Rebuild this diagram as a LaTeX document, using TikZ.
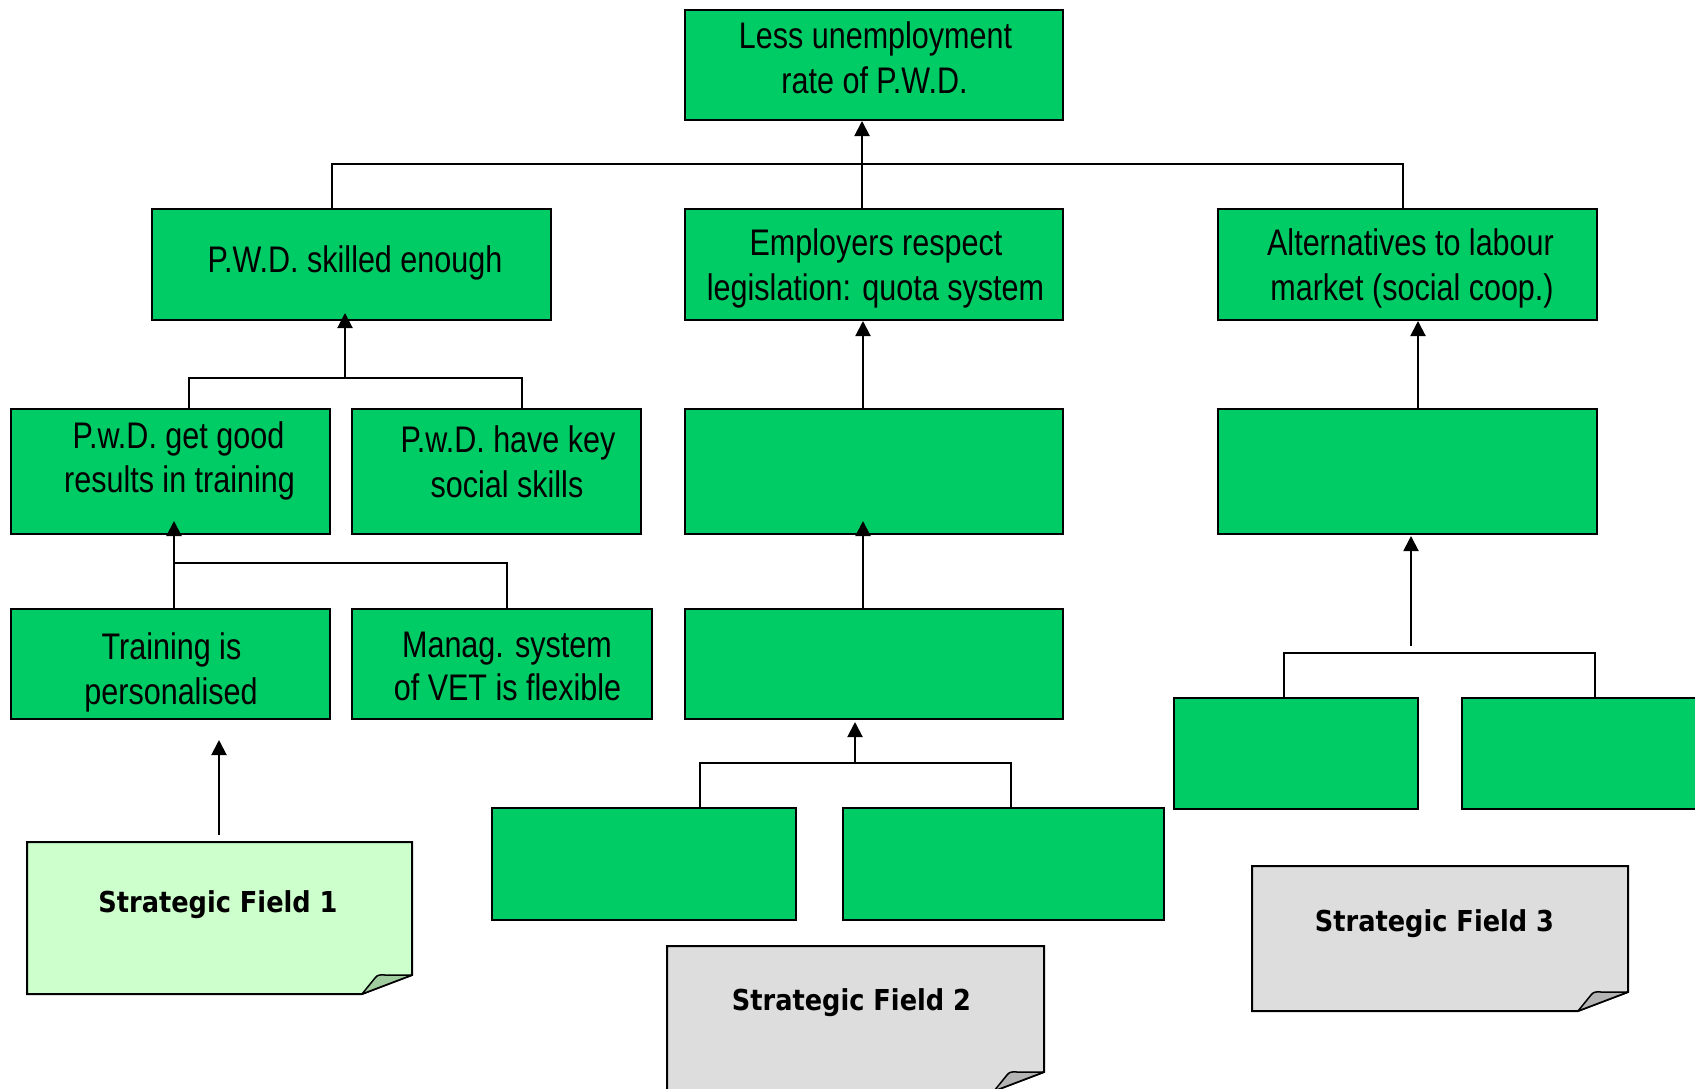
\documentclass[tikz,border=0pt]{standalone}
\usepackage{fontspec}
\usetikzlibrary{arrows.meta}
\newfontfamily\boxfont{Liberation Sans}[FakeStretch=0.825]
\newfontfamily\notefont{DejaVu Sans}[FakeStretch=0.89]
\definecolor{boxgreen}{HTML}{00CC66}
\definecolor{notegreen}{HTML}{CCFFCC}
\definecolor{notegray}{HTML}{DDDDDD}
\definecolor{foldgreen}{HTML}{A0CCA0}
\definecolor{foldgray}{HTML}{B4B4B4}

% goal box given by name, left, top, right, bottom
\newcommand\goalbox[5]{%
  \node[goal, minimum width={#4-#2}, minimum height={#5-#3}] (#1)
    at ({(#2+#4)/2},{(#3+#5)/2}) {};}
% sticky note given by left, top, right, bottom, paper colour, fold colour
\newcommand\stickynote[6]{%
  \path[draw=black, line width=2pt, fill=#5, line join=miter]
    (#1,#2) -- (#3,#2) -- (#3,#4-19) -- (#3-50,#4) -- (#1,#4) -- cycle;
  \path[draw=black, line width=1.5pt, fill=#6, line join=round]
    (#3-50,#4) -- (#3-37,#4-16) .. controls (#3-35,#4-19) and (#3-32,#4-19.5)
    .. (#3-27,#4-19) -- (#3,#4-19) -- cycle;}

\begin{document}
\begin{tikzpicture}[x=1pt, y=-1pt,
  goal/.style={draw=black, line width=2pt, fill=boxgreen, inner sep=0pt, outer sep=0pt},
  lbl/.style={anchor=base, inner sep=0pt, font=\boxfont\fontsize{37}{45}\selectfont},
  notelbl/.style={anchor=base, inner sep=0pt, font=\notefont\bfseries\fontsize{28.8}{34}\selectfont},
  link/.style={line width=2pt},
  tip/.style={line width=2pt, -{Triangle[length=15pt,width=15pt]}}]
\useasboundingbox (0,0) rectangle (1695,1088);
\clip (0,0) rectangle (1695,1088);

% goal boxes
\goalbox{top}{685}{10}{1063}{120}
\goalbox{a}{152}{209}{551}{320}
\goalbox{b}{685}{209}{1063}{320}
\goalbox{c}{1218}{209}{1597}{320}
\goalbox{d}{11}{409}{330}{534}
\goalbox{e}{352}{409}{641}{534}
\goalbox{f}{685}{409}{1063}{534}
\goalbox{g}{1218}{409}{1597}{534}
\goalbox{h}{11}{609}{330}{719}
\goalbox{i}{352}{609}{652}{719}
\goalbox{j}{685}{609}{1063}{719}
\goalbox{k}{1174}{698}{1418}{809}
\goalbox{l}{1462}{698}{1720}{809}
\goalbox{m}{492}{808}{796}{920}
\goalbox{n}{843}{808}{1164}{920}

% box texts
\node[lbl] (top-1) at (875.5,48) {Less unemployment};
\node[lbl] (top-2) at (874.5,93) {rate of P.W.D.};
\node[lbl] (a-1) at (355,272) {P.W.D. skilled enough};
\node[lbl] (b-1) at (876,255) {Employers respect};
\node[lbl] (b-2) at (875.5,300) {legislation: quota system};
\node[lbl] (c-1) at (1410.5,255) {Alternatives to labour};
\node[lbl] (c-2) at (1412,300) {market (social coop.)};
\node[lbl] (d-1) at (178.5,448) {P.w.D. get good};
\node[lbl] (d-2) at (179.5,492) {results in training};
\node[lbl] (e-1) at (508,452) {P.w.D. have key};
\node[lbl] (e-2) at (507,497) {social skills};
\node[lbl] (h-1) at (171.5,659) {Training is};
\node[lbl] (h-2) at (171,704) {personalised};
\node[lbl] (i-1) at (507,657) {Manag. system};
\node[lbl] (i-2) at (507.5,700) {of VET is flexible};

% strategic field notes
\stickynote{27}{842}{412}{994}{notegreen}{foldgreen}
\stickynote{667}{946}{1044}{1091}{notegray}{foldgray}
\stickynote{1252}{866}{1628}{1011}{notegray}{foldgray}
\node[notelbl] (f1) at (218,912) {Strategic Field 1};
\node[notelbl] (f2) at (851.5,1010) {Strategic Field 2};
\node[notelbl] (f3) at (1434.5,931) {Strategic Field 3};

% connectors: second level to the top goal
\draw[link] ([xshift=-19.5pt]a.north) |- ([xshift=-4.5pt,yshift=45pt]c.north)
  -- ([xshift=-4.5pt]c.north);
\draw[tip] ([xshift=-12pt]b.north) -- ([xshift=-12pt,yshift=-1pt]top.south);

% left branch
\draw[link] ([xshift=18.5pt]d.north) |- ([xshift=25.5pt,yshift=31pt]e.north)
  -- ([xshift=25.5pt]e.north);
\draw[tip] ([xshift=-6.5pt,yshift=-58pt]a.south) -- ([xshift=-6.5pt,yshift=7pt]a.south);
\draw[link] ([xshift=3.5pt,yshift=46pt]h.north) -| ([xshift=5pt]i.north);
\draw[tip] ([xshift=3.5pt]h.north) -- ([xshift=3.5pt,yshift=13pt]d.south);
\coordinate (f1-tail) at (219,835);
\coordinate (h-tip) at (219,740);
\draw[tip] (f1-tail) -- (h-tip);

% middle branch
\draw[tip] ([xshift=-11pt]f.north) -- ([xshift=-11pt,yshift=-1pt]b.south);
\draw[tip] ([xshift=-11pt]j.north) -- ([xshift=-11pt,yshift=13pt]f.south);
\draw[link] ([xshift=56pt]m.north) |- ([xshift=7.5pt,yshift=45pt]n.north)
  -- ([xshift=7.5pt]n.north);
\draw[tip] ([xshift=-19pt,yshift=-44pt]j.south) -- ([xshift=-19pt,yshift=-3pt]j.south);

% right branch
\draw[tip] ([xshift=10.5pt]g.north) -- ([xshift=10.5pt,yshift=-1pt]c.south);
\draw[link] ([xshift=-12pt]k.north) |- ([xshift=4pt,yshift=45pt]l.north)
  -- ([xshift=4pt]l.north);
\draw[tip] ([xshift=3.5pt,yshift=-112pt]g.south) -- ([xshift=3.5pt,yshift=-2pt]g.south);
\end{tikzpicture}
\end{document}
